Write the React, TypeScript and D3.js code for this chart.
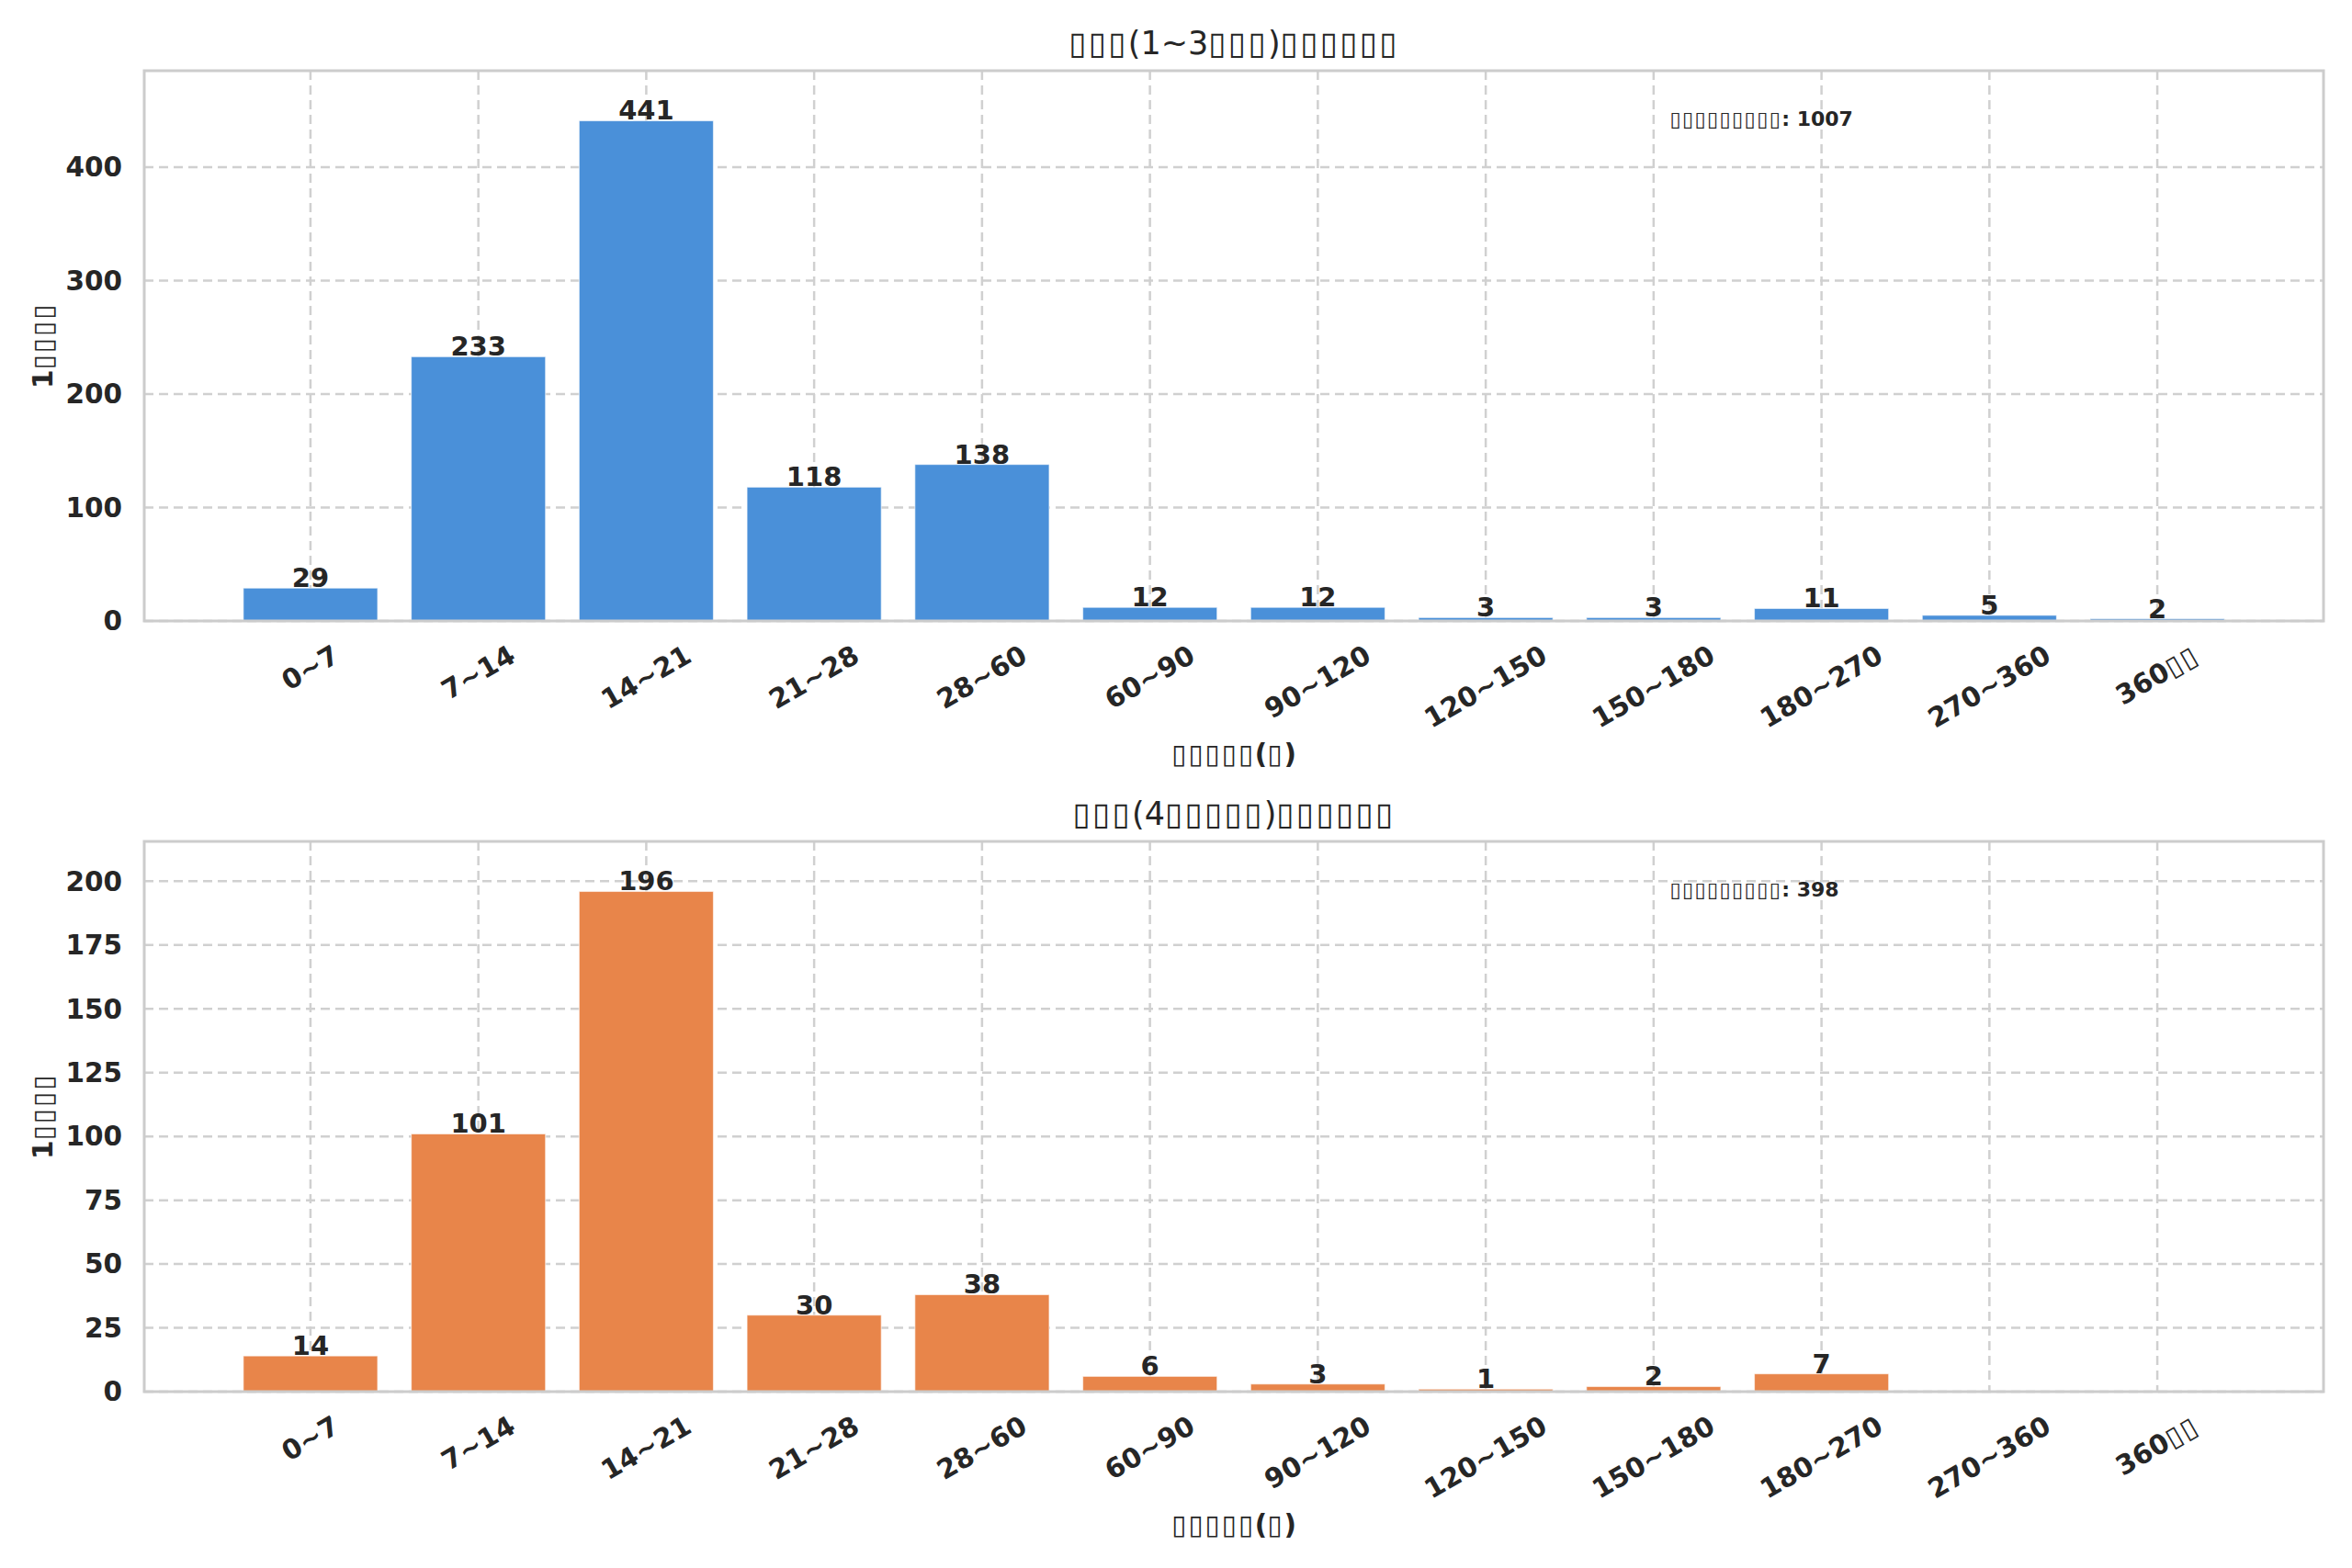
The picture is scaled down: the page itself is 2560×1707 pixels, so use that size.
import React, { useRef, useEffect } from 'react';
import * as d3 from 'd3';

// category labels and counts
const categories = ['0~7', '7~14', '14~21', '21~28', '28~60', '60~90', '90~120', '120~150', '150~180', '180~270', '270~360', '360▯▯'];
const lowValues = [29, 233, 441, 118, 138, 12, 12, 3, 3, 11, 5, 2];
const highValues = [14, 101, 196, 30, 38, 6, 3, 1, 2, 7, 0, 0];
const lowTicks = [0, 100, 200, 300, 400];
const highTicks = [0, 25, 50, 75, 100, 125, 150, 175, 200];

// the source text rendered as missing-glyph boxes, kept as boxes
const lowTitle = '▯▯▯(1~3▯▯▯)▯▯▯▯▯▯';
const highTitle = '▯▯▯(4▯▯▯▯▯)▯▯▯▯▯▯';
const xLabel = '▯▯▯▯▯(▯)';
const yLabel = '1▯▯▯▯';
const totalLabel = '▯▯▯▯▯▯▯▯▯';

const W = 2560;
const H = 1707;
const FONT = "'DejaVu Sans', sans-serif";
const TEXT = '#262626';
const GRID = '#d0d0d0';
const LEFT = 157;
const RIGHT = 2529;

interface Panel {
  title: string;
  values: number[];
  ticks: number[];
  color: string;
  top: number;
  bottom: number;
}

const panels: Panel[] = [
  { title: lowTitle, values: lowValues, ticks: lowTicks, color: '#4a90d9', top: 77, bottom: 676 },
  { title: highTitle, values: highValues, ticks: highTicks, color: '#e8854a', top: 916, bottom: 1515 },
];

// write text, widening the box glyphs a little so they sit like the tofu boxes
const fillText = (t: d3.Selection<SVGTextElement, unknown, null, undefined>, s: string) => {
  const runs = s.match(/▯+|[^▯]+/g) || [];
  runs.forEach((r) => {
    const ts = t.append('tspan').text(r);
    if (r[0] === '▯') ts.attr('letter-spacing', '0.065em');
  });
  return t;
};

const App: React.FC = () => {
  const svgRef = useRef<SVGSVGElement | null>(null);

  useEffect(() => {
    const svg = d3.select(svgRef.current);
    svg.selectAll('*').remove();

    svg.append('rect').attr('width', W).attr('height', H).attr('fill', '#ffffff');

    panels.forEach((p) => {
      const g = svg.append('g');

      const x = d3.scaleBand<string>()
        .domain(categories)
        .range([LEFT, RIGHT])
        .paddingInner(0.2)
        .paddingOuter(0.59);

      const y = d3.scaleLinear()
        .domain([0, (d3.max(p.values) as number) * 1.1])
        .range([p.bottom, p.top]);

      const cx = (c: string) => (x(c) as number) + x.bandwidth() / 2;

      // grid
      g.selectAll('.vgrid')
        .data(categories)
        .enter()
        .append('line')
        .attr('x1', (d) => cx(d))
        .attr('x2', (d) => cx(d))
        .attr('y1', p.top)
        .attr('y2', p.bottom)
        .attr('stroke', GRID)
        .attr('stroke-width', 2.5)
        .attr('stroke-dasharray', '10,6');

      g.selectAll('.hgrid')
        .data(p.ticks)
        .enter()
        .append('line')
        .attr('x1', LEFT)
        .attr('x2', RIGHT)
        .attr('y1', (d) => y(d))
        .attr('y2', (d) => y(d))
        .attr('stroke', GRID)
        .attr('stroke-width', 2.5)
        .attr('stroke-dasharray', '10,6');

      // bars
      g.selectAll('.bar')
        .data(p.values)
        .enter()
        .append('rect')
        .attr('x', (_, i) => x(categories[i]) as number)
        .attr('width', x.bandwidth())
        .attr('y', (d) => y(d))
        .attr('height', (d) => p.bottom - y(d))
        .attr('fill', p.color)
        .attr('stroke', '#ffffff')
        .attr('stroke-opacity', 0.6)
        .attr('stroke-width', 1.2);

      // spines
      g.append('rect')
        .attr('x', LEFT)
        .attr('y', p.top)
        .attr('width', RIGHT - LEFT)
        .attr('height', p.bottom - p.top)
        .attr('fill', 'none')
        .attr('stroke', '#cccccc')
        .attr('stroke-width', 3);

      // value labels, zero bars get none
      p.values.forEach((v, i) => {
        if (v <= 0) return;
        g.append('text')
          .attr('x', cx(categories[i]))
          .attr('y', y(v) - 1)
          .attr('text-anchor', 'middle')
          .attr('font-family', FONT)
          .attr('font-weight', 'bold')
          .attr('font-size', 29)
          .attr('fill', TEXT)
          .text(v);
      });

      // y tick labels
      g.selectAll('.ytick')
        .data(p.ticks)
        .enter()
        .append('text')
        .attr('x', LEFT - 24)
        .attr('y', (d) => y(d))
        .attr('dy', '0.35em')
        .attr('text-anchor', 'end')
        .attr('font-family', FONT)
        .attr('font-weight', 'bold')
        .attr('font-size', 29.5)
        .attr('fill', TEXT)
        .text((d) => d);

      // x tick labels, rotated 30 degrees, bbox top under the axis
      categories.forEach((c) => {
        const t = g.append('text')
          .attr('text-anchor', 'middle')
          .attr('dy', '0.33em')
          .attr('font-family', FONT)
          .attr('font-weight', 'bold')
          .attr('font-size', 29.5)
          .attr('fill', TEXT);
        fillText(t, c);
        const w = (t.node() as SVGTextElement).getComputedTextLength();
        const h = 29.5 * 1.164;
        const rh = w * 0.5 + h * 0.866;
        t.attr('transform', `translate(${cx(c)},${p.bottom + 20 + rh / 2}) rotate(-30)`);
      });

      // title
      fillText(
        g.append('text')
          .attr('x', (LEFT + RIGHT) / 2)
          .attr('y', p.top - 18)
          .attr('text-anchor', 'middle')
          .attr('font-family', FONT)
          .attr('font-size', 35)
          .attr('fill', TEXT),
        p.title,
      );

      // axis labels
      fillText(
        g.append('text')
          .attr('x', (LEFT + RIGHT) / 2)
          .attr('y', p.bottom + 145)
          .attr('dy', '0.35em')
          .attr('text-anchor', 'middle')
          .attr('font-family', FONT)
          .attr('font-weight', 'bold')
          .attr('font-size', 29.5)
          .attr('fill', TEXT),
        xLabel,
      );

      fillText(
        g.append('text')
          .attr('transform', `translate(47,${(p.top + p.bottom) / 2}) rotate(-90)`)
          .attr('dy', '0.35em')
          .attr('text-anchor', 'middle')
          .attr('font-family', FONT)
          .attr('font-weight', 'bold')
          .attr('font-size', 29.5)
          .attr('fill', TEXT),
        yLabel,
      );

      // total annotation
      fillText(
        g.append('text')
          .attr('x', LEFT + 0.7 * (RIGHT - LEFT))
          .attr('y', p.top + 0.1 * (p.bottom - p.top))
          .attr('font-family', FONT)
          .attr('font-weight', 'bold')
          .attr('font-size', 22)
          .attr('fill', TEXT),
        `${totalLabel}: ${d3.sum(p.values)}`,
      );
    });
  }, []);

  return (
    <svg
      ref={svgRef}
      width={W}
      height={H}
      style={{ position: 'absolute', left: 0, top: 0, display: 'block' }}
    />
  );
};

export default App;
